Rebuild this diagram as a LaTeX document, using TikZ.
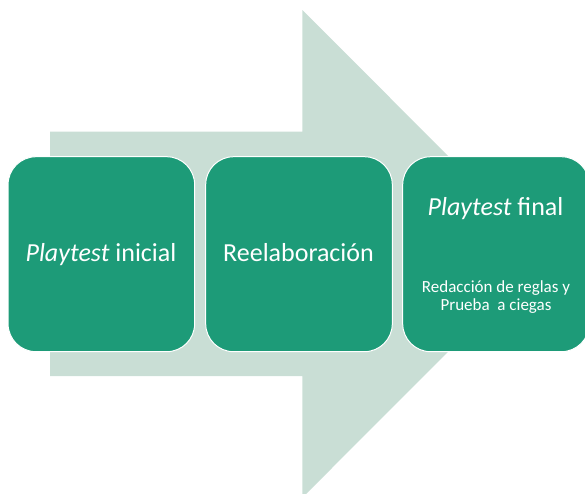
\documentclass[tikz,border=0pt]{standalone}
\usepackage{fontspec}
\setmainfont{Carlito}
\definecolor{boxgreen}{RGB}{29,155,120}
\definecolor{arrowgray}{RGB}{201,222,213}
\begin{document}
\begin{tikzpicture}[x=1pt,y=-1pt,
  stage/.style={draw=white, line width=1pt, fill=boxgreen, rounded corners=28pt,
    minimum width=186.6pt, minimum height=195pt, inner sep=0pt},
  bigtext/.style={text=white, inner sep=0pt, anchor=base, font=\fontsize{26}{31}\selectfont},
  smalltext/.style={text=white, inner sep=0pt, anchor=base, align=center, font=\fontsize{17}{17.3}\selectfont}]
\clip (0,0) rectangle (585,493);
\fill[arrowgray] (50,131.7) -- (302.3,131.7) -- (302.3,10) -- (546,253.85)
  -- (302.3,497.7) -- (302.3,376) -- (50,376) -- cycle;
\node[stage] (s1) at (101.35,254.2) {};
\node[stage] (s2) at (299,254.2) {};
\node[stage] (s3) at (496,254.2) {};
\node[bigtext] (t1) at (101,261.7) {\textit{Playtest} inicial};
\node[bigtext] (t2) at (298.5,261.7) {Reelaboración};
\node[bigtext] (t3) at (495.5,215.7) {\textit{Playtest} final};
\node[smalltext] (t4) at (496,310) {Redacción de reglas y\\Prueba~~a ciegas};
\end{tikzpicture}
\end{document}
